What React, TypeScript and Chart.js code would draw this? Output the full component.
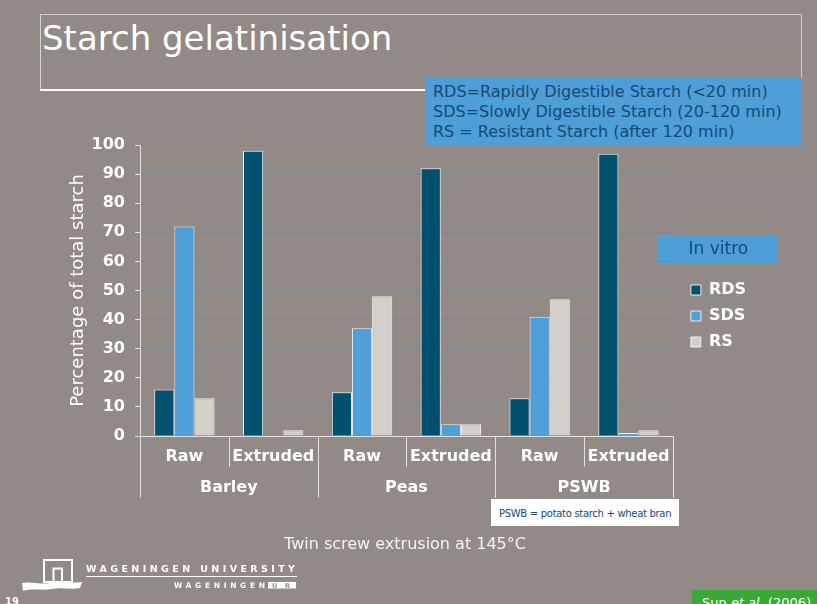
import React, { useEffect, useRef } from 'react';
import { Chart, registerables } from 'chart.js';

Chart.register(...registerables);

// Sub-categories along the x axis, and the group each pair belongs to
const categories = ['Raw', 'Extruded', 'Raw', 'Extruded', 'Raw', 'Extruded'];
const groups = ['Barley', 'Peas', 'PSWB'];

// Percentage of total starch per fraction
const seriesNames = ['RDS', 'SDS', 'RS'];
const rdsValues = [16, 98, 15, 92, 13, 97];
const sdsValues = [72, 0, 37, 4, 41, 1];
const rsValues = [13, 2, 48, 4, 47, 2];

// y axis range
const yMin = 0;
const yMax = 100;
const yStep = 10;

const FONT = 'DejaVu Sans';
const BG = '#918a86';
const AXIS = '#e4e2df';
const GRID = '#7c8896';
const DARK_BLUE = '#164a74';
const BOX_BLUE = '#4e9ed8';
const seriesColors = ['#00506f', '#4f9fd8', '#d4d1ca'];

// Vertical separators between sub-categories and between groups,
// located from the x scale itself.
const dividerPlugin = {
  id: 'groupDividers',
  afterDraw(chart: any) {
    const x = chart.scales.x;
    const x2 = chart.scales.x2;
    if (!x || !x2) return;
    const n = categories.length;
    const perGroup = n / groups.length;
    const step = x.getPixelForValue(1) - x.getPixelForValue(0);
    const ctx = chart.ctx;
    ctx.save();
    ctx.strokeStyle = AXIS;
    ctx.lineWidth = 1;
    for (let i = 0; i <= n; i++) {
      const centre = x.getPixelForValue(Math.min(i, n - 1));
      const px = Math.round(i < n ? centre - step / 2 : centre + step / 2) + 0.5;
      const yEnd = i % perGroup === 0 ? x2.bottom : x.bottom;
      ctx.beginPath();
      ctx.moveTo(px, x.top);
      ctx.lineTo(px, yEnd);
      ctx.stroke();
    }
    ctx.restore();
  },
};

// Leaves a small gap between the plot area and the legend column.
const legendGapPlugin = {
  id: 'legendGap',
  afterLayout(chart: any) {
    const lg = chart.legend;
    if (lg) {
      lg.left += 8;
      lg.right += 8;
    }
  },
};

const labelFont = { family: FONT, size: 16, weight: 'bold' as const };

function StarchChart() {
  const ref = useRef<HTMLCanvasElement | null>(null);

  useEffect(() => {
    if (!ref.current) return;
    Chart.defaults.font.family = FONT;
    const values = [rdsValues, sdsValues, rsValues];
    const chart = new Chart(ref.current, {
      type: 'bar',
      data: {
        labels: categories,
        datasets: seriesNames.map((name, i) => ({
          label: name,
          data: values[i],
          backgroundColor: seriesColors[i],
          borderColor: '#eeeeee',
          borderWidth: 1,
          categoryPercentage: 0.68,
          barPercentage: 1,
          xAxisID: 'x',
          yAxisID: 'y',
        })),
      },
      options: {
        responsive: false,
        animation: false,
        devicePixelRatio: 1,
        layout: { padding: { left: 66, top: 145, right: 69, bottom: 106.4 } },
        plugins: {
          tooltip: { enabled: false },
          legend: {
            position: 'right',
            align: 'start',
            labels: {
              color: '#ffffff',
              font: labelFont,
              boxWidth: 10,
              boxHeight: 10,
              padding: 10,
            },
            title: {
              display: true,
              text: 'In vitro',
              color: DARK_BLUE,
              font: { family: FONT, size: 17 },
              padding: { top: 96, bottom: 10.6 },
            },
          },
        },
        scales: {
          x: {
            type: 'category',
            position: 'bottom',
            weight: 0,
            offset: true,
            grid: {
              display: true,
              drawOnChartArea: false,
              drawTicks: true,
              tickLength: 11.4,
              color: 'rgba(0,0,0,0)',
            },
            border: { display: true, color: AXIS, width: 1 },
            ticks: {
              color: '#ffffff',
              font: labelFont,
              padding: 0,
              maxRotation: 0,
              autoSkip: false,
            },
          },
          x2: {
            type: 'category',
            position: 'bottom',
            weight: 1,
            offset: true,
            labels: groups,
            grid: {
              display: true,
              drawOnChartArea: false,
              drawTicks: true,
              tickLength: 11.8,
              color: 'rgba(0,0,0,0)',
            },
            border: { display: false },
            ticks: {
              color: '#ffffff',
              font: labelFont,
              padding: 0,
              maxRotation: 0,
              autoSkip: false,
            },
          },
          y: {
            min: yMin,
            max: yMax,
            afterFit: (s: any) => {
              s.width = 74;
            },
            ticks: {
              stepSize: yStep,
              color: '#ffffff',
              font: labelFont,
              padding: 10,
            },
            grid: {
              color: (c: any) => (c.tick && c.tick.value === yMin ? AXIS : GRID),
              tickColor: AXIS,
              tickLength: 5,
              lineWidth: 1,
            },
            border: { color: AXIS, width: 1 },
            title: {
              display: true,
              text: 'Percentage of total starch',
              color: '#ffffff',
              font: { family: FONT, size: 18 },
              padding: { top: 2, bottom: 2 },
            },
          },
        },
      },
      plugins: [dividerPlugin, legendGapPlugin],
    } as any);
    return () => chart.destroy();
  }, []);

  return (
    <canvas
      ref={ref}
      width={817}
      height={604}
      style={{ position: 'absolute', left: 0, top: 0, width: 817, height: 604 }}
    />
  );
}

function Logo() {
  return (
    <svg
      width={320}
      height={49}
      style={{ position: 'absolute', left: 0, top: 555 }}
      viewBox="0 0 320 49"
    >
      <rect x={44} y={5} width={28} height={22} fill="none" stroke="#ffffff" strokeWidth={2} />
      <rect x={53.5} y={13.5} width={8.5} height={14} fill="none" stroke="#ffffff" strokeWidth={2} />
      <path
        d="M22 28 C32 26 40 30 50 28 C60 26 70 29 82 27 L80 33 C70 35 62 32 52 34 C42 36 32 33 23 36 Z"
        fill="#ffffff"
      />
      <text
        x={86}
        y={17}
        fill="#ffffff"
        fontFamily={FONT}
        fontSize={9.5}
        fontWeight="bold"
        textLength={209}
        lengthAdjust="spacing"
      >
        WAGENINGEN UNIVERSITY
      </text>
      <rect x={86} y={21} width={211} height={1} fill="#ffffff" />
      <text
        x={174}
        y={33}
        fill="#ffffff"
        fontFamily={FONT}
        fontSize={7.5}
        fontWeight="bold"
        textLength={91}
        lengthAdjust="spacing"
      >
        WAGENINGEN
      </text>
      <rect x={268} y={27} width={28} height={6.5} fill="#ffffff" />
      <text x={272} y={32.5} fill={BG} fontFamily={FONT} fontSize={6.5} fontWeight="bold" textLength={18} lengthAdjust="spacing">
        UR
      </text>
    </svg>
  );
}

export default function App() {
  const abs: React.CSSProperties = { position: 'absolute', boxSizing: 'border-box' };
  return (
    <div
      style={{
        position: 'fixed',
        left: 0,
        top: 0,
        width: 817,
        height: 604,
        overflow: 'hidden',
        background: BG,
        fontFamily: FONT,
      }}
    >
      {/* title frame */}
      <div style={{ ...abs, left: 40, top: 14, width: 762, height: 1, background: '#cfcbc7' }} />
      <div style={{ ...abs, left: 40, top: 14, width: 1, height: 76, background: '#d8d5d2' }} />
      <div style={{ ...abs, left: 801, top: 14, width: 1, height: 64, background: '#cfcbc7' }} />
      <div style={{ ...abs, left: 40, top: 89, width: 386, height: 1.5, background: '#ffffff' }} />
      <div
        style={{
          ...abs,
          left: 42,
          top: 17.5,
          fontSize: 34,
          lineHeight: '40px',
          color: '#ffffff',
          whiteSpace: 'nowrap',
        }}
      >
        Starch gelatinisation
      </div>

      {/* definitions box */}
      <div
        style={{
          ...abs,
          left: 425,
          top: 78,
          width: 377,
          height: 68,
          background: BOX_BLUE,
          color: DARK_BLUE,
          fontSize: 16,
          lineHeight: '20px',
          paddingLeft: 8,
          paddingTop: 4,
          whiteSpace: 'nowrap',
        }}
      >
        <div>RDS=Rapidly Digestible Starch (&lt;20 min)</div>
        <div>SDS=Slowly Digestible Starch (20-120 min)</div>
        <div>RS = Resistant Starch (after 120 min)</div>
      </div>

      {/* backing for the legend heading */}
      <div style={{ ...abs, left: 657, top: 235, width: 121, height: 29, background: BOX_BLUE }} />

      <StarchChart />

      <div
        style={{
          ...abs,
          left: 491,
          top: 499,
          width: 188,
          height: 27,
          background: '#ffffff',
          color: DARK_BLUE,
          fontSize: 10,
          lineHeight: '14px',
          paddingLeft: 8,
          paddingTop: 8,
          letterSpacing: -0.3,
          whiteSpace: 'nowrap',
        }}
      >
        PSWB = potato starch + wheat bran
      </div>

      <div
        style={{
          ...abs,
          left: 205,
          top: 533.5,
          width: 400,
          textAlign: 'center',
          fontSize: 16,
          lineHeight: '20px',
          color: '#f4f4f4',
          whiteSpace: 'nowrap',
        }}
      >
        Twin screw extrusion at 145°C
      </div>

      <Logo />

      <div
        style={{
          ...abs,
          left: 5,
          top: 596,
          fontSize: 10,
          fontWeight: 'bold',
          lineHeight: '12px',
          color: '#ffffff',
        }}
      >
        19
      </div>

      <div
        style={{
          ...abs,
          left: 692,
          top: 590,
          width: 125,
          height: 20,
          background: '#39a935',
          color: '#ffffff',
          fontSize: 13,
          lineHeight: '16px',
          paddingLeft: 10,
          paddingTop: 5,
          whiteSpace: 'nowrap',
        }}
      >
        Sun <i>et al.</i> (2006)
      </div>
    </div>
  );
}
